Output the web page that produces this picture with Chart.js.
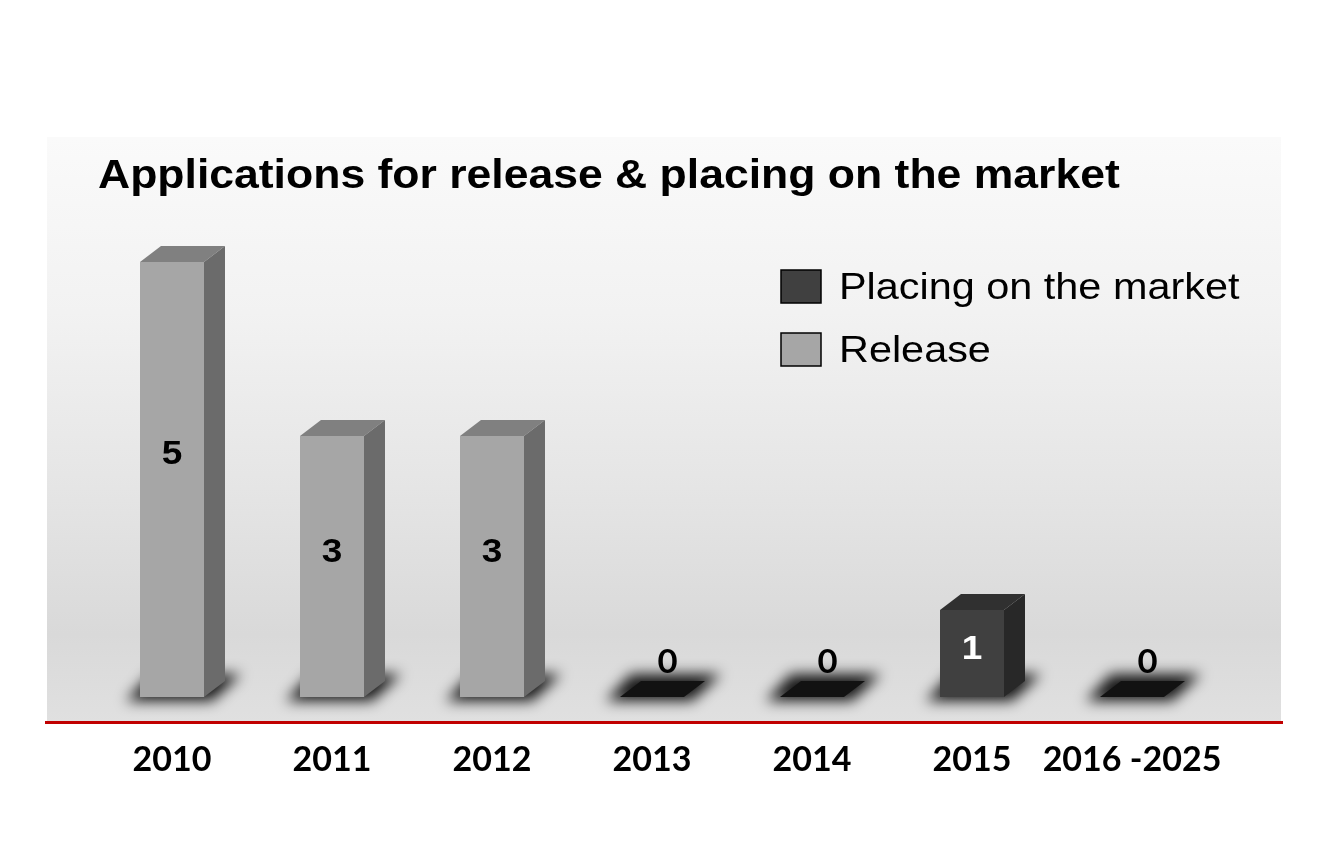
<!DOCTYPE html>
<html><head><meta charset="utf-8">
<script src="https://cdn.jsdelivr.net/npm/chart.js@4.4.1/dist/chart.umd.min.js"></script>
<style>html,body{margin:0;padding:0;background:#fff;overflow:hidden}</style>
</head><body>
<canvas id="c" width="1320" height="856"></canvas>
<script>
const categories = ['2010', '2011', '2012', '2013', '2014', '2015', '2016 -2025'];
const placingValues = [null, null, null, 0, 0, 1, 0];
const releaseValues = [5, 3, 3, null, null, null, null];
const seriesNames = ['Placing on the market', 'Release'];
const titleText = 'Applications for release & placing on the market';

const DX = 21, DY = 16;
const faceColors = {
  0: {front: '#404040', top: '#303030', side: '#282828', label: '#ffffff'},
  1: {front: '#a6a6a6', top: '#808080', side: '#6b6b6b', label: '#000000'}
};

function poly(ctx, pts, fill) {
  ctx.beginPath();
  ctx.moveTo(pts[0][0], pts[0][1]);
  for (let i = 1; i < pts.length; i++) ctx.lineTo(pts[i][0], pts[i][1]);
  ctx.closePath();
  ctx.fillStyle = fill;
  ctx.fill();
}

function wideText(ctx, text, x, y, sx) {
  ctx.save();
  ctx.translate(x, y);
  ctx.scale(sx, 1);
  ctx.fillText(text, 0, 0);
  ctx.restore();
}

function eachBar(chart, cb) {
  chart.data.datasets.forEach((ds, di) => {
    const meta = chart.getDatasetMeta(di);
    meta.data.forEach((el, i) => {
      const v = ds.data[i];
      if (v === null || v === undefined) return;
      const p = el.getProps(['x', 'y', 'base', 'width'], true);
      cb(di, i, v, p);
    });
  });
}

const deco = {
  id: 'deco',
  beforeDraw(chart) {
    const ctx = chart.ctx;
    ctx.save();
    ctx.fillStyle = '#ffffff';
    ctx.fillRect(0, 0, chart.width, chart.height);
    const g = ctx.createLinearGradient(0, 137, 0, 722);
    g.addColorStop(0, '#fafafa');
    g.addColorStop(0.3, '#f2f2f2');
    g.addColorStop(0.6, '#e5e5e5');
    g.addColorStop(0.85, '#d9d9d9');
    g.addColorStop(1, '#e0e0e0');
    ctx.fillStyle = g;
    ctx.fillRect(47, 137, 1234, 585);
    ctx.fillStyle = '#c00000';
    ctx.fillRect(45, 721, 1238, 3);
    ctx.fillStyle = '#000';
    ctx.font = 'bold 40px "Liberation Sans", Arial, sans-serif';
    ctx.textAlign = 'left';
    ctx.textBaseline = 'alphabetic';
    wideText(ctx, titleText, 98, 188, 1.113);
    // legend
    ctx.font = '36px "Liberation Sans", Arial, sans-serif';
    chart.data.datasets.forEach((ds, di) => {
      const y = 270 + di * 63;
      ctx.fillStyle = ds.backgroundColor;
      ctx.fillRect(781, y, 40, 33);
      ctx.strokeStyle = '#000';
      ctx.lineWidth = 1.5;
      ctx.strokeRect(781, y, 40, 33);
      ctx.fillStyle = '#000';
      wideText(ctx, ds.label, 839, y + 29, 1.15);
    });
    ctx.restore();
  },
  beforeDatasetsDraw(chart) {
    const ctx = chart.ctx;
    ctx.save();
    ctx.filter = 'blur(7px)';
    eachBar(chart, (di, i, v, p) => {
      const x0 = p.x - p.width / 2, x1 = p.x + p.width / 2, b = p.base;
      poly(ctx, [[x0 - 14, b + 4], [x0 + DX - 10, b - DY - 7], [x1 + DX + 16, b - DY - 7], [x1 + 8, b + 4]], 'rgba(0,0,0,0.9)');
    });
    ctx.restore();
  },
  afterDatasetsDraw(chart) {
    const ctx = chart.ctx;
    ctx.save();
    eachBar(chart, (di, i, v, p) => {
      const x0 = p.x - p.width / 2, x1 = p.x + p.width / 2, b = p.base, t = p.y;
      const c = faceColors[di];
      ctx.textAlign = 'center';
      ctx.textBaseline = 'middle';
      if (v === 0) {
        poly(ctx, [[x0, b], [x0 + DX, b - DY], [x1 + DX, b - DY], [x1, b]], '#121212');
        ctx.fillStyle = '#000';
        ctx.font = 'bold 33px Lato, "Open Sans", sans-serif';
        wideText(ctx, String(v), p.x + DX / 2 + 5, b - 35, 1.05);
        return;
      }
      poly(ctx, [[x0, t], [x0 + DX, t - DY], [x1 + DX, t - DY], [x1, t]], c.top);
      poly(ctx, [[x1, t], [x1 + DX, t - DY], [x1 + DX, b - DY], [x1, b]], c.side);
      ctx.fillStyle = c.label;
      ctx.font = 'bold 33px "Liberation Sans", Arial, sans-serif';
      wideText(ctx, String(v), p.x, b - 0.56 * (b - t) + 2, 1.12);
    });
    ctx.restore();
  }
};

new Chart(document.getElementById('c'), {
  type: 'bar',
  data: {
    labels: categories,
    datasets: [
      {label: seriesNames[0], data: placingValues, backgroundColor: '#404040', borderWidth: 0},
      {label: seriesNames[1], data: releaseValues, backgroundColor: '#a6a6a6', borderWidth: 0}
    ]
  },
  options: {
    responsive: false,
    devicePixelRatio: 1,
    animation: false,
    layout: {padding: {left: 92, right: 108, top: 175, bottom: 59}},
    datasets: {bar: {categoryPercentage: 1, barPercentage: 0.4}},
    plugins: {legend: {display: false}, tooltip: {enabled: false}, title: {display: false}},
    scales: {
      y: {display: false, stacked: true, min: 0, max: 6},
      x: {
        stacked: true,
        grid: {display: false, drawTicks: false},
        border: {display: false},
        ticks: {color: '#000', font: {family: 'Lato, "Open Sans", sans-serif', weight: 'bold', size: 34}, padding: 43, maxRotation: 0, autoSkip: false},
        afterFit(scale) { scale.height = 100; }
      }
    }
  },
  plugins: [deco]
});
</script>
</body></html>
